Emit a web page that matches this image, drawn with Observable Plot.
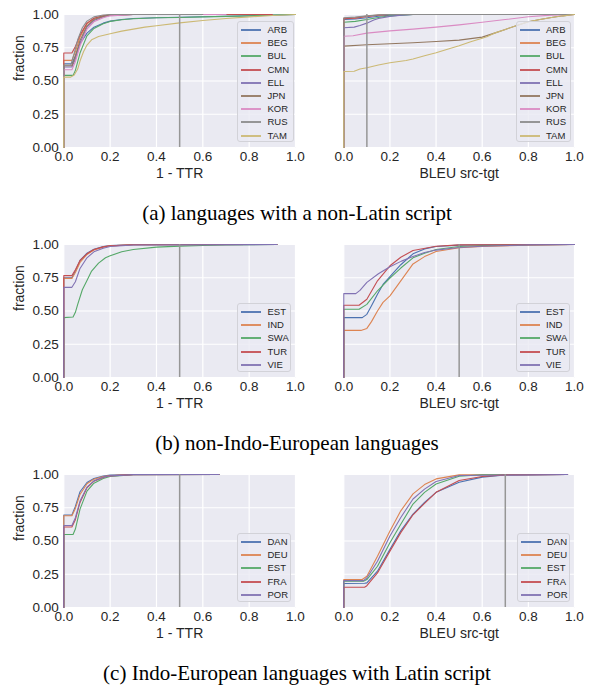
<!DOCTYPE html>
<html><head><meta charset="utf-8">
<script src="https://cdn.jsdelivr.net/npm/d3@7"></script>
<script src="https://cdn.jsdelivr.net/npm/@observablehq/plot@0.6"></script>
<style>
body{margin:0;background:#fff;width:594px;height:689px;overflow:hidden;font-family:"Liberation Sans",Arial,sans-serif;}
.row{position:relative;width:594px;height:230px;}
.cell{position:absolute;top:0;width:297px;height:185px;}
.cell svg{overflow:visible;}
.cap{position:absolute;left:0;width:594px;top:203px;height:20px;line-height:20px;text-align:center;font-family:"Liberation Serif","Times New Roman",serif;font-size:21px;color:#000;}
.leg{position:absolute;background:rgba(234,234,242,0.8);border:1px solid #d2d2d8;border-radius:3px;box-sizing:border-box;}
.leg .it{position:absolute;left:0;height:13px;}
.leg .sw{position:absolute;width:20px;height:2px;top:6px;opacity:0.9;}
.leg .tx{position:absolute;font-size:9.5px;line-height:13px;color:#262626;white-space:nowrap;}
</style></head>
<body>
<div id="root"></div>
<script>
const palette = ["#4C72B0","#DD8452","#55A868","#C44E52","#8172B3","#937860","#DA8BC3","#8C8C8C","#CCB974"];

// Row (a): languages with a non-Latin script
const langsA = ["ARB","BEG","BUL","CMN","ELL","JPN","KOR","RUS","TAM"];
const a1_ARB = [[0,0],[0,.63],[.035,.63],[.05,.69],[.07,.78],[.1,.86],[.13,.905],[.17,.935],[.2,.95],[.25,.962],[.3,.97],[.4,.976],[.5,.979],[.6,.983],[.7,.987],[.8,.991],[.9,.995],[1,1]];
const a1_BEG = [[0,0],[0,.655],[.035,.655],[.05,.72],[.07,.83],[.1,.93],[.13,.97],[.17,.99],[.2,.996],[.3,1],[.8,1]];
const a1_BUL = [[0,0],[0,.542],[.04,.542],[.05,.58],[.07,.71],[.1,.84],[.13,.895],[.17,.93],[.2,.948],[.25,.96],[.3,.968],[.4,.975],[.5,.978],[.6,.982],[.7,.986],[.8,.99],[.9,.996],[1,1]];
const a1_CMN = [[0,0],[0,.71],[.035,.71],[.05,.76],[.07,.845],[.1,.935],[.13,.972],[.17,.99],[.2,.996],[.3,1],[.9,1]];
const a1_ELL = [[0,0],[0,.605],[.035,.605],[.05,.665],[.07,.785],[.1,.905],[.13,.955],[.17,.982],[.2,.992],[.3,1],[.7,1]];
const a1_JPN = [[0,0],[0,.615],[.035,.615],[.05,.685],[.07,.805],[.1,.915],[.13,.962],[.17,.986],[.2,.995],[.3,1],[.7,1]];
const a1_KOR = [[0,0],[0,.585],[.035,.585],[.05,.645],[.07,.765],[.1,.89],[.13,.945],[.17,.976],[.2,.99],[.3,1],[.7,1]];
const a1_RUS = [[0,0],[0,.62],[.03,.62],[.045,.71],[.06,.81],[.08,.90],[.1,.95],[.13,.982],[.17,.996],[.2,1],[.6,1]];
const a1_TAM = [[0,0],[0,.529],[.03,.529],[.045,.545],[.06,.59],[.07,.65],[.085,.72],[.1,.77],[.12,.81],[.15,.835],[.2,.855],[.25,.875],[.3,.89],[.35,.905],[.4,.915],[.5,.937],[.6,.955],[.7,.97],[.8,.982],[.9,.993],[1,1]];

const a2_ARB = [[0,0],[0,.962],[.05,.966],[.1,.976],[.15,.987],[.2,.995],[.3,1],[.82,1]];
const a2_BEG = [[0,0],[0,.972],[.05,.976],[.1,.988],[.15,.996],[.2,1],[1,1]];
const a2_BUL = [[0,0],[0,.942],[.05,.948],[.1,.962],[.15,.978],[.2,.99],[.3,1],[.8,1]];
const a2_CMN = [[0,0],[0,.968],[.05,.973],[.1,.985],[.15,.994],[.2,1],[1,1]];
const a2_ELL = [[0,0],[0,.90],[.045,.905],[.07,.918],[.1,.935],[.13,.958],[.15,.97],[.2,.986],[.25,.995],[.3,1],[.8,1]];
const a2_JPN = [[0,0],[0,.762],[.1,.772],[.2,.78],[.3,.788],[.4,.797],[.5,.807],[.6,.83],[.65,.858],[.7,.888],[.75,.918],[.8,.945],[.85,.962],[.9,.977],[.95,.99],[1,1]];
const a2_KOR = [[0,0],[0,.837],[.04,.84],[.1,.86],[.2,.877],[.3,.89],[.4,.905],[.5,.922],[.6,.942],[.7,.962],[.8,.983],[.9,.995],[1,1]];
const a2_RUS = [[0,0],[0,.975],[.05,.98],[.1,.99],[.15,.997],[.2,1],[1,1]];
const a2_TAM = [[0,0],[0,.571],[.045,.573],[.07,.59],[.1,.60],[.15,.62],[.2,.637],[.27,.654],[.3,.665],[.35,.69],[.4,.712],[.46,.745],[.5,.765],[.55,.795],[.6,.822],[.62,.832],[.65,.858],[.7,.888],[.75,.918],[.8,.945],[.85,.962],[.9,.977],[.95,.99],[1,1]];

// Row (b): non-Indo-European languages
const langsB = ["EST","IND","SWA","TUR","VIE"];
const b1_EST = [[0,0],[0,.75],[.035,.75],[.05,.80],[.07,.88],[.1,.935],[.13,.965],[.17,.985],[.2,.993],[.3,.999],[.92,1]];
const b1_IND = [[0,0],[0,.745],[.035,.745],[.05,.79],[.07,.865],[.1,.925],[.13,.958],[.17,.98],[.2,.99],[.3,.998],[.92,1]];
const b1_SWA = [[0,0],[0,.45],[.04,.455],[.05,.49],[.06,.55],[.08,.66],[.1,.73],[.12,.80],[.15,.86],[.18,.90],[.2,.915],[.25,.945],[.3,.962],[.4,.98],[.5,.988],[.6,.993],[.7,.996],[.92,1]];
const b1_TUR = [[0,0],[0,.766],[.035,.766],[.05,.81],[.07,.88],[.1,.93],[.13,.962],[.17,.982],[.2,.99],[.3,.998],[.92,1]];
const b1_VIE = [[0,0],[0,.678],[.035,.678],[.05,.72],[.07,.82],[.1,.90],[.13,.945],[.17,.972],[.2,.985],[.3,.996],[.92,1]];

const b2_EST = [[0,0],[0,.45],[.08,.45],[.1,.475],[.12,.54],[.146,.626],[.17,.70],[.2,.758],[.247,.848],[.3,.93],[.35,.967],[.4,.985],[.5,.995],[.6,.998],[1,1]];
const b2_IND = [[0,0],[0,.354],[.074,.354],[.1,.369],[.12,.42],[.146,.50],[.17,.565],[.2,.614],[.247,.727],[.3,.854],[.35,.909],[.4,.947],[.5,.975],[.6,.985],[.8,.995],[1,1]];
const b2_SWA = [[0,0],[0,.513],[.066,.513],[.1,.55],[.146,.652],[.2,.747],[.247,.823],[.3,.90],[.35,.934],[.4,.962],[.5,.985],[.6,.992],[.8,.998],[1,1]];
const b2_TUR = [[0,0],[0,.543],[.066,.543],[.1,.588],[.146,.727],[.2,.84],[.247,.904],[.3,.955],[.4,.987],[.5,.997],[1,1]];
const b2_VIE = [[0,0],[0,.631],[.052,.631],[.07,.655],[.1,.715],[.15,.78],[.2,.833],[.25,.875],[.3,.909],[.35,.94],[.4,.958],[.5,.977],[.6,.987],[.8,.997],[1,1]];

// Row (c): Indo-European languages with Latin script
const langsC = ["DAN","DEU","EST","FRA","POR"];
const c1_DAN = [[0,0],[0,.696],[.035,.696],[.05,.76],[.07,.87],[.1,.94],[.13,.97],[.17,.988],[.2,.995],[.3,1],[.67,1]];
const c1_DEU = [[0,0],[0,.69],[.035,.69],[.05,.745],[.07,.85],[.1,.93],[.13,.965],[.17,.985],[.2,.993],[.3,1],[.67,1]];
const c1_EST = [[0,0],[0,.549],[.04,.549],[.05,.59],[.07,.74],[.1,.875],[.13,.935],[.17,.97],[.2,.985],[.3,.998],[.67,1]];
const c1_FRA = [[0,0],[0,.605],[.035,.605],[.05,.66],[.07,.79],[.1,.90],[.13,.95],[.17,.978],[.2,.99],[.3,.999],[.67,1]];
const c1_POR = [[0,0],[0,.617],[.035,.617],[.05,.675],[.07,.80],[.1,.905],[.13,.952],[.17,.98],[.2,.99],[.3,.999],[.67,1]];

const c2_DAN = [[0,0],[0,.18],[.09,.182],[.1,.185],[.146,.273],[.2,.437],[.247,.576],[.3,.702],[.35,.79],[.4,.866],[.5,.942],[.6,.98],[.7,.997],[.97,1]];
const c2_DEU = [[0,0],[0,.21],[.08,.21],[.1,.235],[.146,.386],[.2,.576],[.247,.727],[.3,.854],[.35,.924],[.4,.967],[.5,.997],[.97,1]];
const c2_EST = [[0,0],[0,.197],[.085,.197],[.1,.21],[.146,.31],[.2,.487],[.247,.626],[.3,.778],[.35,.866],[.4,.929],[.5,.987],[.6,.998],[.97,1]];
const c2_FRA = [[0,0],[0,.152],[.09,.152],[.1,.164],[.146,.26],[.2,.424],[.247,.563],[.3,.697],[.35,.783],[.4,.866],[.5,.955],[.6,.985],[.7,.997],[.97,1]];
const c2_POR = [[0,0],[0,.202],[.085,.202],[.1,.222],[.146,.348],[.2,.538],[.247,.677],[.3,.816],[.35,.89],[.4,.947],[.5,.992],[.97,1]];

const xTicks = [0,0.2,0.4,0.6,0.8,1.0];
const yTicks = [0,0.25,0.5,0.75,1.0];
const captions = ["(a) languages with a non-Latin script","(b) non-Indo-European languages","(c) Indo-European languages with Latin script"];
const refLines = [[0.5,0.1],[0.5,0.5],[0.5,0.7]];

const rows = [
  {langs: langsA, left:[a1_ARB,a1_BEG,a1_BUL,a1_CMN,a1_ELL,a1_JPN,a1_KOR,a1_RUS,a1_TAM], right:[a2_ARB,a2_BEG,a2_BUL,a2_CMN,a2_ELL,a2_JPN,a2_KOR,a2_RUS,a2_TAM],
   legL:{x:237,y:21,w:57,h:121}, legR:{x:218.5,y:21,w:55,h:121}},
  {langs: langsB, left:[b1_EST,b1_IND,b1_SWA,b1_TUR,b1_VIE], right:[b2_EST,b2_IND,b2_SWA,b2_TUR,b2_VIE],
   legL:{x:237,y:73,w:54,h:69}, legR:{x:218.5,y:73,w:54,h:69}},
  {langs: langsC, left:[c1_DAN,c1_DEU,c1_EST,c1_FRA,c1_POR], right:[c2_DAN,c2_DEU,c2_EST,c2_FRA,c2_POR],
   legL:{x:237,y:73,w:54,h:69}, legR:{x:219.5,y:73,w:53,h:69}}
];

const FONT = '"Liberation Sans", Arial, sans-serif';

function chart(langs, series, refX, isLeft, xLabel) {
  const data = langs.flatMap((n, i) => series[i].map(([x, y]) => ({lang: n, x, y})));
  const marks = [
    Plot.frame({fill: "#EAEAF2", stroke: "none"}),
    Plot.gridX(xTicks, {stroke: "white", strokeOpacity: 1, strokeWidth: 1.2}),
    Plot.gridY(yTicks, {stroke: "white", strokeOpacity: 1, strokeWidth: 1.2}),
    Plot.axisX(xTicks, {tickSize: 0, tickPadding: 4, tickFormat: d3.format(".1f"), label: null, fontSize: 13.5, fill: "#262626"}),
    Plot.line(data, {x: "x", y: "y", z: "lang", stroke: "lang", strokeWidth: 1.1}),
    Plot.ruleX([refX], {stroke: "#969696", strokeWidth: 1.5}),
    Plot.text([xLabel], {frameAnchor: "bottom", dy: 30, fontSize: 14, fill: "#262626"})
  ];
  if (isLeft) {
    marks.push(Plot.axisY(yTicks, {tickSize: 0, tickPadding: 5, tickFormat: d3.format(".2f"), label: null, fontSize: 13.5, fill: "#262626"}));
    marks.push(Plot.text(["fraction"], {frameAnchor: "left", dx: -44, rotate: -90, fontSize: 14, fill: "#262626"}));
  }
  return Plot.plot({
    width: 297, height: 185,
    marginLeft: isLeft ? 63.3 : 46.3,
    marginRight: isLeft ? 2 : 20,
    marginTop: 14, marginBottom: 38,
    style: {fontFamily: FONT, fontSize: "14px", color: "#262626", background: "transparent", overflow: "visible"},
    x: {domain: [0, 1]},
    y: {domain: [0, 1], axis: isLeft ? undefined : null},
    color: {domain: langs, range: palette.slice(0, langs.length)},
    marks
  });
}

function legend(langs, pos, parent) {
  const box = document.createElement("div");
  box.className = "leg";
  Object.assign(box.style, {left: pos.x + "px", top: Math.round(pos.y) + "px", width: pos.w + "px", height: pos.h + "px"});
  langs.forEach((n, i) => {
    const it = document.createElement("div");
    it.className = "it";
    it.style.top = Math.round(1 + i * 13.2) + "px";
    it.style.width = "100%";
    const sw = document.createElement("div");
    sw.className = "sw";
    sw.style.left = "3px";
    sw.style.background = palette[i];
    const tx = document.createElement("div");
    tx.className = "tx";
    tx.style.left = "29.5px";
    tx.textContent = n;
    it.appendChild(sw); it.appendChild(tx);
    box.appendChild(it);
  });
  parent.appendChild(box);
}

const root = document.getElementById("root");
rows.forEach((r, ri) => {
  const row = document.createElement("div");
  row.className = "row";
  const cl = document.createElement("div"); cl.className = "cell"; cl.style.left = "0px";
  const cr = document.createElement("div"); cr.className = "cell"; cr.style.left = "297px";
  cl.appendChild(chart(r.langs, r.left, refLines[ri][0], true, "1 - TTR"));
  cr.appendChild(chart(r.langs, r.right, refLines[ri][1], false, "BLEU src-tgt"));
  legend(r.langs, r.legL, cl);
  legend(r.langs, r.legR, cr);
  row.appendChild(cl); row.appendChild(cr);
  const cap = document.createElement("div"); cap.className = "cap"; cap.textContent = captions[ri];
  row.appendChild(cap);
  root.appendChild(row);
});
</script>
</body></html>
